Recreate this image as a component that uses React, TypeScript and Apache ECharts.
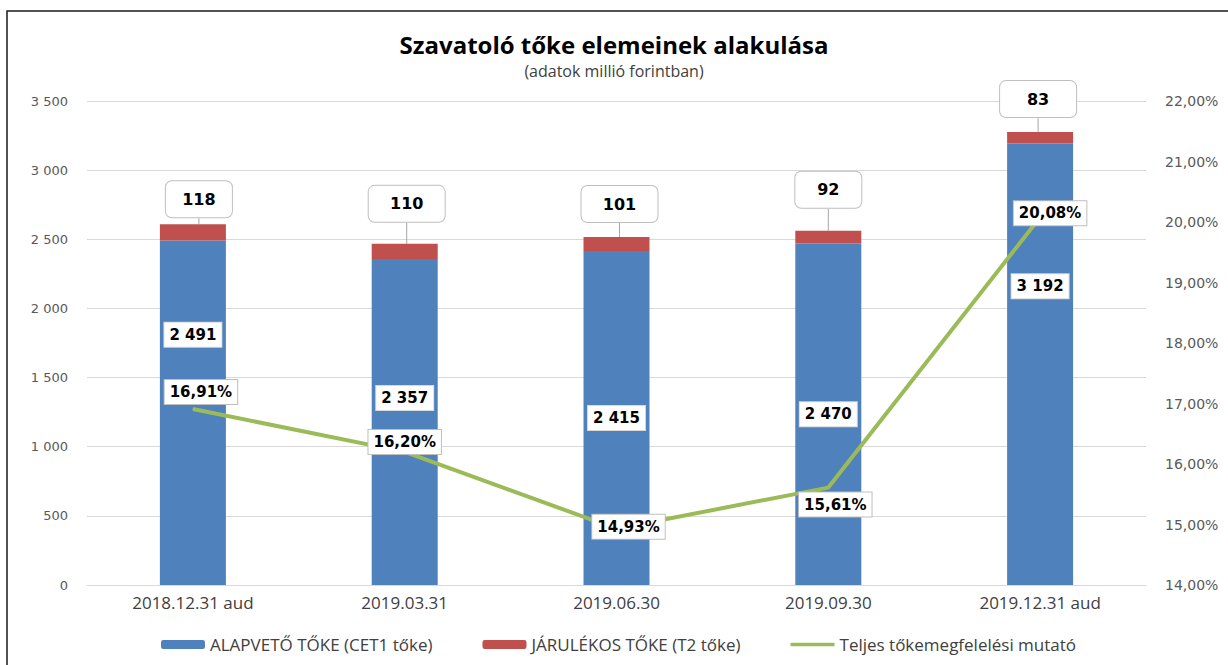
import React, { useEffect, useRef } from 'react';
import * as echarts from 'echarts';

const categories = ['2018.12.31 aud', '2019.03.31', '2019.06.30', '2019.09.30', '2019.12.31 aud'];
const cet1Values = [2491, 2357, 2415, 2470, 3192];
const t2Values = [118, 110, 101, 92, 83];
const ratioValues = [16.91, 16.2, 14.93, 15.61, 20.08];
const seriesNames = ['ALAPVETŐ TŐKE (CET1 tőke)', 'JÁRULÉKOS TŐKE (T2 tőke)', 'Teljes tőkemegfelelési mutató'];

// label placement (styles, not data)
const cet1LabelOffsets = [[0, -78], [0, -24], [0, 0], [0, 0], [0, -78]];
const t2LabelShift = [[6, -7], [2, -22], [3, -15], [0, -23], [-2, -15]];
const t2LabelWidths = [38, 48, 48, 38, 48];
const ratioLabelOffsets = [[8, -17], [0, -10], [12, -2], [7, 17], [10, -4]];

const fmtNum = (v: number) => String(v).replace(/\B(?=(\d{3})+(?!\d))/g, ' ');
const fmtPct = (v: number) => v.toFixed(2).replace('.', ',') + '%';

const LABEL_FONT = 'DejaVu Sans, Verdana, sans-serif';
const TEXT_FONT = 'Open Sans, Noto Sans, sans-serif';

export default function App() {
  const ref = useRef<HTMLDivElement>(null);
  useEffect(() => {
    document.body.style.margin = '0';
    const chart = echarts.init(ref.current!, null, { renderer: 'svg' });
    chart.setOption({
      animation: false,
      backgroundColor: '#fff',
      title: {
        text: 'Szavatoló tőke elemeinek alakulása',
        subtext: '(adatok millió forintban)',
        left: 'center',
        top: 27,
        itemGap: 7,
        textStyle: { fontFamily: TEXT_FONT, fontSize: 24, fontWeight: 'bold', color: '#000' },
        subtextStyle: { fontFamily: TEXT_FONT, fontSize: 16, color: '#404040' },
      },
      graphic: [
        {
          type: 'rect',
          shape: { x: 7, y: 11, width: 1300, height: 800 },
          style: { fill: 'none', stroke: '#1a1a1a', lineWidth: 1.5 },
          silent: true,
          z: 100,
        },
      ],
      legend: {
        left: 156,
        top: 631,
        itemWidth: 44,
        itemHeight: 9,
        itemGap: 50,
        data: [
          { name: seriesNames[0] },
          { name: seriesNames[1] },
          { name: seriesNames[2], icon: 'path://M0,0h48v4h-48z' },
        ],
        textStyle: { fontFamily: TEXT_FONT, fontSize: 17, color: '#404040' },
      },
      grid: { left: 87, right: 82, top: 101, bottom: 80 },
      xAxis: {
        type: 'category',
        data: categories,
        axisTick: { show: false },
        axisLine: { lineStyle: { color: '#d9d9d9' } },
        axisLabel: { fontFamily: TEXT_FONT, fontSize: 17, color: '#404040', margin: 9 },
      },
      yAxis: [
        {
          type: 'value',
          min: 0,
          max: 3500,
          interval: 500,
          axisLine: { show: false },
          axisTick: { show: false },
          splitLine: { lineStyle: { color: '#d9d9d9' } },
          axisLabel: { fontFamily: LABEL_FONT, fontSize: 13, color: '#595959', margin: 19, formatter: (v: number) => fmtNum(v) },
        },
        {
          type: 'value',
          min: 14,
          max: 22,
          interval: 1,
          axisLine: { show: false },
          axisTick: { show: false },
          splitLine: { show: false },
          axisLabel: { fontFamily: LABEL_FONT, fontSize: 14, color: '#595959', margin: 19, formatter: (v: number) => fmtPct(v) },
        },
      ],
      series: [
        {
          name: seriesNames[0],
          type: 'bar',
          stack: 'total',
          barWidth: 66,
          itemStyle: { color: '#4F81BD' },
          label: {
            show: true,
            position: 'inside',
            formatter: (p: any) => fmtNum(p.value),
            fontFamily: LABEL_FONT,
            fontWeight: 'bold',
            fontSize: 15,
            color: '#000',
            backgroundColor: '#fff',
            borderColor: '#d9d9d9',
            borderWidth: 1,
            padding: [5, 5, 4, 5],
          },
          data: cet1Values.map((v, i) => ({ value: v, label: { offset: cet1LabelOffsets[i] } })),
        },
        {
          name: seriesNames[1],
          type: 'bar',
          stack: 'total',
          barWidth: 66,
          itemStyle: { color: '#C0504D' },
          label: {
            show: true,
            position: 'top',
            distance: 0,
            formatter: (p: any) => fmtNum(p.value),
            fontFamily: LABEL_FONT,
            fontWeight: 'bold',
            fontSize: 16,
            color: '#000',
            align: 'center',
            backgroundColor: '#fff',
            borderColor: '#bfbfbf',
            borderWidth: 1,
            borderRadius: 6,
            padding: [10, 14, 10, 14],
          },
          labelLine: { show: true, lineStyle: { color: '#a6a6a6', width: 1 } },
          labelLayout: (p: any) => ({ dx: t2LabelShift[p.dataIndex][0], dy: t2LabelShift[p.dataIndex][1] }),
          data: t2Values.map((v, i) => ({ value: v, label: { width: t2LabelWidths[i] } })),
        },
        {
          name: seriesNames[2],
          type: 'line',
          yAxisIndex: 1,
          symbol: 'none',
          lineStyle: { color: '#9BBB59', width: 4 },
          itemStyle: { color: '#9BBB59' },
          data: ratioValues,
          z: 3,
        },
        {
          name: 'ratioLabels',
          type: 'scatter',
          yAxisIndex: 1,
          symbolSize: 1,
          itemStyle: { color: '#9BBB59', opacity: 1 },
          silent: true,
          z: 5,
          label: {
            show: true,
            position: 'inside',
            formatter: (p: any) => fmtPct(p.value),
            fontFamily: LABEL_FONT,
            fontWeight: 'bold',
            fontSize: 15,
            color: '#000',
            opacity: 1,
            backgroundColor: '#fff',
            borderColor: '#bfbfbf',
            borderWidth: 1,
            padding: [5, 5, 4, 5],
          },
          data: ratioValues.map((v, i) => ({ value: v, label: { offset: ratioLabelOffsets[i] } })),
        },
      ],
    });
    return () => chart.dispose();
  }, []);
  return <div ref={ref} style={{ width: 1228, height: 665 }} />;
}
